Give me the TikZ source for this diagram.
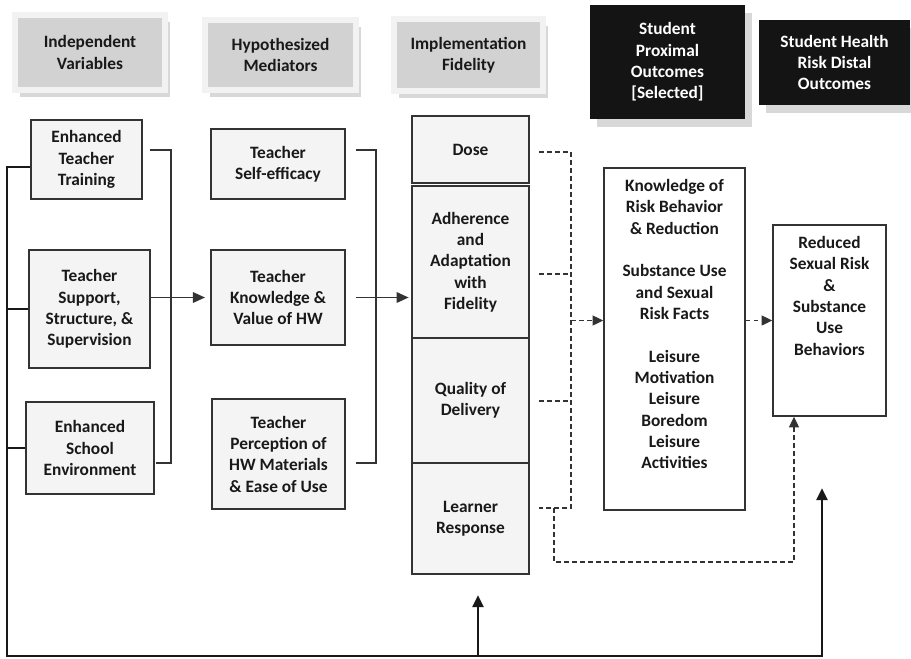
\documentclass[tikz,border=0pt]{standalone}
\usepackage{fontspec}
\setmainfont{Carlito}
\usetikzlibrary{positioning,shadows,arrows.meta}

\tikzset{
  txt/.style={font=\bfseries\fontsize{13}{16}\selectfont, align=center, text=black!90},
  hdrbox/.style={txt, fill=gray!35, draw=gray!10, line width=4.5pt, inner sep=0pt,
    drop shadow={shadow xshift=4pt, shadow yshift=-5pt, fill=black!30, opacity=0.5}},
  darkbox/.style={txt, fill=black!92, text=white, inner sep=0pt,
    drop shadow={shadow xshift=5pt, shadow yshift=-6pt, fill=black!30, opacity=0.5}},
  varbox/.style={txt, draw=black!80, fill=gray!9, line width=1.1pt, inner sep=0pt},
  outbox/.style={draw=black!80, fill=white, line width=1.1pt, inner sep=0pt},
  link/.style={draw=black!80, line width=0.9pt},
  arr/.style={link, -{Triangle[length=9pt,width=8pt]}},
  dashlink/.style={draw=black!80, line width=0.9pt, dash pattern=on 3.5pt off 2.5pt},
  dasharr/.style={dashlink, -{Triangle[length=8pt,width=7.5pt]}},
  feedback/.style={draw=black!90, line width=2.2pt},
  fbarr/.style={feedback, -{Triangle[length=9pt,width=8pt]}}
}

\begin{document}
\begin{tikzpicture}[x=0.75pt, y=-0.75pt]
\useasboundingbox (0,0) rectangle (911,658);

% column headers
\node[hdrbox, minimum width=112.5pt, minimum height=56.25pt] (hiv) at (90,52.5) {Independent\\Variables};
\node[hdrbox, minimum width=113.25pt, minimum height=52.5pt] (hhm) at (280.5,55) {Hypothesized\\Mediators};
\node[hdrbox, minimum width=111.75pt, minimum height=54pt] (hif) at (468.5,55) {Implementation\\Fidelity};
\node[darkbox, minimum width=116.25pt, minimum height=85.5pt] (hpo) at (667.5,62) {Student\\Proximal\\Outcomes\\{[Selected]}};
\node[darkbox, minimum width=113.25pt, minimum height=63.75pt] (hdo) at (834.5,62.5) {Student Health\\Risk Distal\\Outcomes};

% independent variables
\node[varbox, minimum width=83.25pt, minimum height=59.25pt] (ett) at (86.5,159.5) {Enhanced\\Teacher\\Training};
\node[varbox, minimum width=90.75pt, minimum height=88.5pt] (tss) at (89.5,309) {Teacher\\Support,\\Structure, \&\\Supervision};
\node[varbox, minimum width=96pt, minimum height=69pt] (ese) at (90,448) {Enhanced\\School\\Environment};

% mediators
\node[varbox, minimum width=100.5pt, minimum height=52.5pt] (tse) at (278,164) {Teacher\\Self-efficacy};
\node[varbox, minimum width=100.5pt, minimum height=71.25pt] (tkv) at (278,297.5) {Teacher\\Knowledge \&\\Value of HW};
\node[varbox, minimum width=99.75pt, minimum height=82.5pt] (tpm) at (278.5,454) {Teacher\\Perception of\\HW Materials\\\& Ease of Use};

% implementation fidelity
\node[varbox, minimum width=87.75pt, minimum height=50.25pt] (dose) at (470.5,149.5) {Dose};
\node[varbox, minimum width=87.75pt, minimum height=114pt] (adh) at (470.5,262) {Adherence\\and\\Adaptation\\with\\Fidelity};
\node[varbox, minimum width=87.75pt, minimum height=93.75pt] (qod) at (470.5,400.5) {Quality of\\Delivery};
\node[varbox, minimum width=87.75pt, minimum height=83.25pt] (lrn) at (470.5,518.5) {Learner\\Response};

% outcomes
\node[outbox, minimum width=105.75pt, minimum height=256.5pt] (prox) at (674.5,339) {};
\node[txt, inner sep=0pt, anchor=north] (proxtext) at (674.5,179) {Knowledge of\\Risk Behavior\\\& Reduction\\[16pt]Substance Use\\and Sexual\\Risk Facts\\[16pt]Leisure\\Motivation\\Leisure\\Boredom\\Leisure\\Activities};
\node[outbox, minimum width=84.75pt, minimum height=143.25pt] (dist) at (829.5,320.5) {};
\node[txt, inner sep=0pt, anchor=north] (disttext) at (829.5,236) {Reduced\\Sexual Risk\\\&\\Substance\\Use\\Behaviors};

% brackets and arrows
\coordinate (b1a) at (150,150);
\coordinate (b1b) at (156,463);
\coordinate (b2a) at (356,150);
\coordinate (b2b) at (356,463);
\draw[link] (b1a) -| (171,297) |- (b1b);
\draw[arr, shorten >=4pt] (tss.east |- tkv.west) -- (tkv.west);
\draw[link] (b2a) -| (376,297) |- (b2b);
\draw[arr, shorten >=2pt] (b2a |- tkv.east) -- (adh.west |- tkv.east);

% dashed links
\coordinate (d1) at (539,152);
\coordinate (d2) at (539,274);
\coordinate (d3) at (539,401);
\coordinate (d4) at (539,508);
\coordinate (dbot) at (571,508);
\coordinate (dl) at (554,562);
\coordinate (dr) at (794,562);
\draw[dashlink] (d1) -| (dbot) -- (d4);
\draw[dashlink] (d2) -- (d2 -| dbot);
\draw[dashlink] (d3) -- (d3 -| dbot);
\draw[dasharr] (dbot |- dist.west) -- (prox.west |- dist.west);
\draw[dasharr] (prox.east |- dist.west) -- (dist.west);
\draw[dasharr] (d4 -| dl) -- (dl) -- (dr) -- (dr |- dist.south);

% feedback
\coordinate (fbtop) at (7,167);
\coordinate (fbl) at (7,656);
\coordinate (fbm) at (478,656);
\coordinate (fbr) at (822,656);
\coordinate (fbmid) at (478,595);
\coordinate (fbend) at (822,488);
\draw[fbarr] (ett.west |- fbtop) -- (fbtop) -- (fbl) -- (fbr) -- (fbend);
\draw[feedback] (fbtop |- tss.west) -- (tss.west);
\draw[feedback] (fbtop |- ese.west) -- (ese.west);
\draw[fbarr] (fbm) -- (fbmid);
\end{tikzpicture}
\end{document}
